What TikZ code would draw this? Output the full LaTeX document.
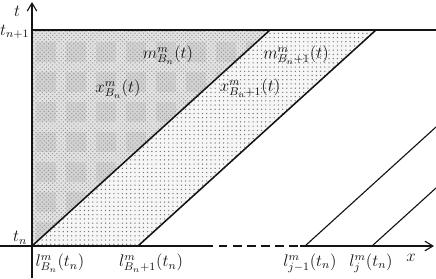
\documentclass[tikz,border=0pt]{standalone}
\usepackage{tikz}
\usetikzlibrary{arrows.meta,patterns}
\definecolor{ink}{RGB}{20,20,20}
\definecolor{shadegray}{RGB}{226,226,226}
\definecolor{patchgray}{RGB}{210,210,210}
\definecolor{lightgray}{RGB}{246,246,246}
\tikzset{
  >={Straight Barb[length=2mm,width=2.4mm]},
  axis/.style={->,thick,draw=ink},
  bound/.style={draw=ink,line width=1.1pt},
  lane/.style={draw=ink,line width=0.8pt},
  tick/.style={font=\large,text=ink,inner sep=1pt},
  inlabel/.style={font=\large,text=ink,inner sep=1pt},
}
\begin{document}
\begin{tikzpicture}[x=0.025cm,y=0.025cm]
    \useasboundingbox (0,0) rectangle (436,278);
    % corner points
    \coordinate (O) at (32,32);
    \coordinate (T) at (32,248);
    \coordinate (R) at (436,248);
    \coordinate (P1) at (270,248);
    \coordinate (Q2) at (138,32);
    \coordinate (P2) at (376,248);
    \coordinate (Q3) at (305,32);
    \coordinate (P3) at (436,151);
    \coordinate (Q4) at (372,32);
    \coordinate (P4) at (436,90);
    % shaded regions
    \begin{scope}
      \clip (O) -- (T) -- (P1) -- cycle;
      \fill[shadegray] (O) -- (T) -- (P1) -- cycle;
      \foreach \i in {0,...,8}
        \foreach \j in {0,...,7}
          \fill[patchgray] (36+30*\i,36+30*\j) rectangle ++(20,20);
      \fill[pattern=crosshatch dots,pattern color=gray!80] (O) -- (T) -- (P1) -- cycle;
    \end{scope}
    \fill[lightgray] (O) -- (P1) -- (P2) -- (Q2) -- cycle;
    \fill[pattern=dots,pattern color=gray!90!black] (O) -- (P1) -- (P2) -- (Q2) -- cycle;
    % axes
    \coordinate (Xs) at (0,32);
    \coordinate (D1) at (205,32);
    \coordinate (D2) at (300,32);
    \coordinate (Xe) at (434,32);
    \coordinate (Ys) at (32,0);
    \coordinate (Ye) at (32,276);
    \draw[thick,ink] (Xs) -- (D1);
    \draw[thick,ink,dashed,dash pattern=on 6pt off 4pt] (D1) -- (D2);
    \draw[axis] (D2) -- (Xe);
    \draw[axis] (Ys) -- (Ye);
    \draw[thick,ink] (T) -- (R);
    % characteristic lines
    \draw[bound] (O) -- (P1);
    \draw[bound] (Q2) -- (P2);
    \draw[lane] (Q3) -- (P3);
    \draw[lane] (Q4) -- (P4);
    % labels
    \node[tick] (lt) at (17,267) {$t$};
    \node[tick,anchor=east] (ltn1) at (31,246) {$t_{n+1}$};
    \node[tick] (ltn) at (20,40) {$t_n$};
    \node[tick] (lx) at (411,20) {$x$};
    \node[tick] (l1) at (60,15) {$l^m_{B_n}(t_n)$};
    \node[tick] (l2) at (151,15) {$l^m_{B_n+1}(t_n)$};
    \node[tick] (l3) at (310,15) {$l^m_{j-1}(t_n)$};
    \node[tick] (l4) at (371,15) {$l^m_{j}(t_n)$};
    \node[inlabel] (m1) at (168,223) {$m^m_{B_n}(t)$};
    \node[inlabel] (x1) at (118,189) {$x^m_{B_n}(t)$};
    \node[inlabel] (m2) at (296,223) {$m^m_{B_n+1}(t)$};
    \node[inlabel] (x2) at (250,190) {$x^m_{B_n+1}(t)$};
\end{tikzpicture}
\end{document}
